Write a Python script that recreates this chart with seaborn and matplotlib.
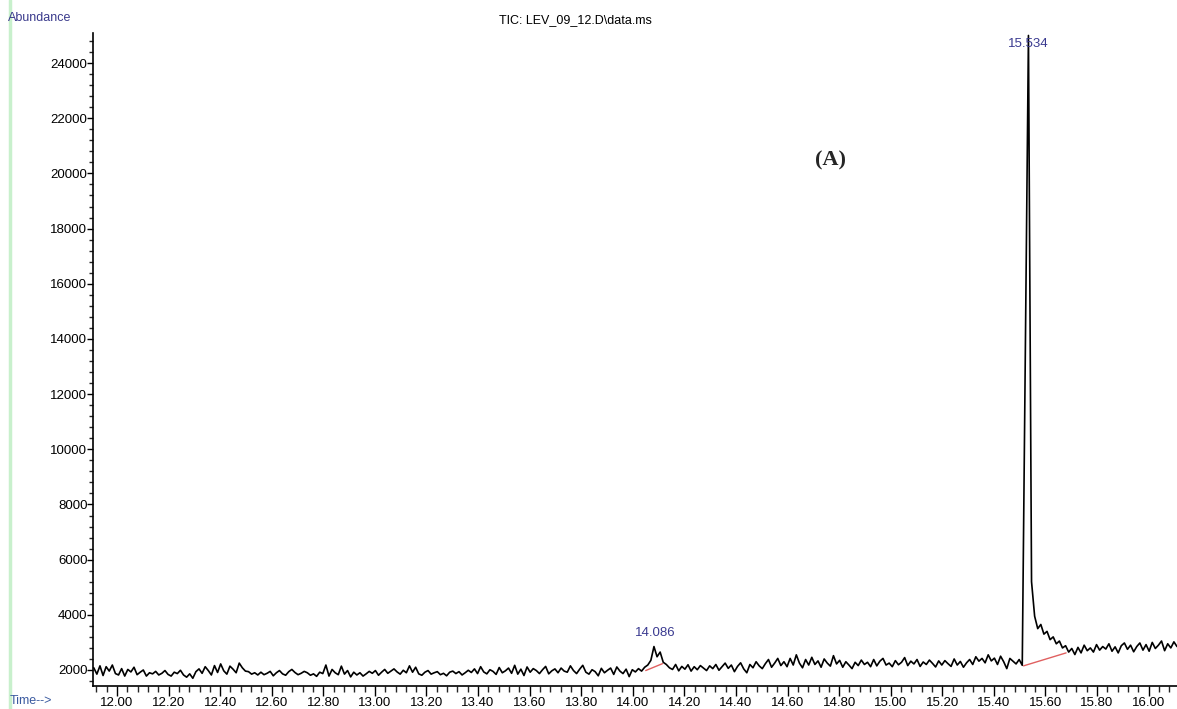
import numpy as np
import pandas as pd
import matplotlib
matplotlib.use("Agg")
import matplotlib.pyplot as plt
from matplotlib.ticker import MultipleLocator, FormatStrFormatter
from matplotlib.lines import Line2D
import seaborn as sns

# ---- data ----
scan_start = 11.91      # min
scan_step = 0.012       # min between scans
abundance = [
    2080, 1850, 2150, 1800, 2120, 1960, 2180, 1870, 1820, 2050, 1780, 2020, 1930, 2100, 1830, 1920, 2000, 1780, 1900, 1860, 1950, 1820, 1880, 1980, 1840,
    1780, 1920, 1870, 1990, 1820, 1740, 1860, 1700, 1940, 2040, 1880, 2120, 1980, 1820, 2160, 1910, 2220, 1970, 1850, 2140, 2030, 1900, 2250, 2080, 1960,
    1940, 1850, 1900, 1820, 1920, 1830, 1880, 1950, 1790, 1900, 1980, 1860, 1810, 1940, 2020, 1910, 1830, 1880, 1950, 1900, 1810, 1860, 1770, 1920, 1870,
    2180, 1780, 2020, 1900, 1830, 2140, 1850, 1980, 1750, 1920, 1820, 1900, 1780, 1860, 1950, 1880, 1980, 1810, 1920, 2020, 1880, 1960, 2040, 1930, 1850,
    1990, 1900, 2150, 1920, 2100, 1860, 1810, 1920, 1980, 1850, 1900, 1940, 1830, 1880, 1790, 1920, 1960, 1870, 1940, 1820, 1900, 1990, 1910, 2040, 1870,
    2120, 1930, 1860, 2010, 1950, 1840, 2090, 1900, 1970, 2070, 1880, 2170, 1850, 2030, 1800, 2110, 1920, 2050, 1980, 1870, 2010, 2130, 1860, 1970, 2040,
    1900, 2070, 1960, 1920, 2150, 1980, 1870, 2030, 2170, 1920, 1850, 2010, 1940, 1790, 2060, 1900, 1990, 2070, 1840, 2110, 1960, 1870, 2030, 1760, 2010,
    1930, 2050, 1960, 2100, 2180, 2350, 2850, 2480, 2650, 2280, 2200, 2080, 2020, 2200, 1970, 2130, 2030, 2190, 1960, 2120, 2010, 2160, 2070, 1980, 2150,
    2050, 2200, 1990, 2120, 2250, 2060, 2180, 1940, 2130, 2260, 2040, 1900, 2200, 2080, 2300, 2150, 2050, 2230, 2380, 2100, 2250, 2420, 2160, 2300, 2120,
    2420, 2180, 2550, 2250, 2080, 2380, 2180, 2460, 2200, 2330, 2100, 2400, 2250, 2140, 2520, 2220, 2350, 2100, 2300, 2180, 2050, 2280, 2160, 2360, 2200,
    2280, 2120, 2380, 2150, 2320, 2420, 2180, 2250, 2120, 2340, 2190, 2280, 2450, 2160, 2320, 2220, 2380, 2130, 2290, 2200, 2360, 2240, 2110, 2330, 2180,
    2340, 2230, 2130, 2400, 2180, 2310, 2100, 2260, 2380, 2200, 2480, 2320, 2420, 2260, 2550, 2330, 2430, 2200, 2500, 2300, 2050, 2420, 2320, 2220, 2380, 2170, 13500,
    25000, 5200, 3950, 3500, 3650, 3300, 3400, 3100, 3200, 2950, 3050, 2800, 2880, 2650, 2780, 2560, 2820, 2620, 2900, 2700, 2800, 2650, 2920, 2720, 2850,
    2760, 2950, 2680, 2840, 2620, 2880, 2980, 2750, 2900, 2660, 2850, 2980, 2720, 2920, 2680, 3000, 2780, 2900, 3050, 2700, 2950, 2800, 3020, 2850,
]
peak_labels = ["14.086", "15.534"]
peak_times = [14.086, 15.534]
peak_heights = [2850, 25000]
label_offsets = [10, -6]   # points above (+) / below (-) the apex
# integration baselines (start time, start abundance, end time, end abundance)
base_t0 = [14.05, 15.515]
base_y0 = [1980, 2150]
base_t1 = [14.115, 15.68]
base_y1 = [2230, 2620]

time = scan_start + scan_step * np.arange(len(abundance))
df = pd.DataFrame({"Time": time, "Abundance": abundance})

# ---- figure ----
sns.set_style("ticks")
plt.rcParams["font.family"] = ["Liberation Sans", "DejaVu Sans"]

fig = plt.figure(figsize=(11.77, 7.09), dpi=100)
ax = fig.add_axes([93 / 1177, 1 - 686 / 709, 1 - 93 / 1177, (686 - 33) / 709])

sns.lineplot(data=df, x="Time", y="Abundance", ax=ax, color="black", linewidth=1.2)

for t0, y0, t1, y1 in zip(base_t0, base_y0, base_t1, base_y1):
    ax.plot([t0, t1], [y0, y1], color="#e06060", linewidth=1.0, zorder=3)

for lab, t, h, off in zip(peak_labels, peak_times, peak_heights, label_offsets):
    ax.annotate(lab, xy=(t, h), xytext=(0, off), textcoords="offset points",
                ha="center", va="center", color="#3a3a90", fontsize=9.5)

ax.set_xlim(11.907, 16.11)
ax.set_ylim(1420, 25090)
ax.set_xlabel("")
ax.set_ylabel("")

ax.xaxis.set_major_locator(MultipleLocator(0.2))
ax.xaxis.set_minor_locator(MultipleLocator(0.04))
ax.xaxis.set_major_formatter(FormatStrFormatter("%.2f"))
ax.set_yticks(np.arange(2000, 24001, 2000))
ax.yaxis.set_minor_locator(MultipleLocator(400))

ax.tick_params(axis="both", which="major", labelsize=9.5, colors="black", width=1.0)
ax.tick_params(axis="x", which="major", length=7, pad=1)
ax.tick_params(axis="x", which="minor", length=4, width=1.0)
ax.tick_params(axis="y", which="major", length=4, pad=0)
ax.tick_params(axis="y", which="minor", length=3, width=1.0)

sns.despine(ax=ax, top=True, right=True)
for s in ["left", "bottom"]:
    ax.spines[s].set_linewidth(1.2)
    ax.spines[s].set_color("black")

# texts
fig.text(8 / 1177, 1 - 18 / 709, "Abundance", color="#3a3a8c", fontsize=9, ha="left", va="center")
fig.text(10 / 1177, 1 - 701 / 709, "Time-->", color="#3a5aa0", fontsize=9, ha="left", va="center")
fig.text(575 / 1177, 1 - 20 / 709, "TIC: LEV_09_12.D\\data.ms", color="black", fontsize=9, ha="center", va="center")
ax.text((830 - 93) / 1084, (686 - 160) / 653, "(A)", transform=ax.transAxes, fontsize=16, fontweight="bold",
        family=["Liberation Serif", "DejaVu Serif"], ha="center", va="center")

# light green frame edge on the left
fig.add_artist(Line2D([10 / 1177, 10 / 1177], [0, 1], transform=fig.transFigure,
                      color="#c8f0cc", linewidth=2.5))

fig.savefig("out.png", dpi=100)
